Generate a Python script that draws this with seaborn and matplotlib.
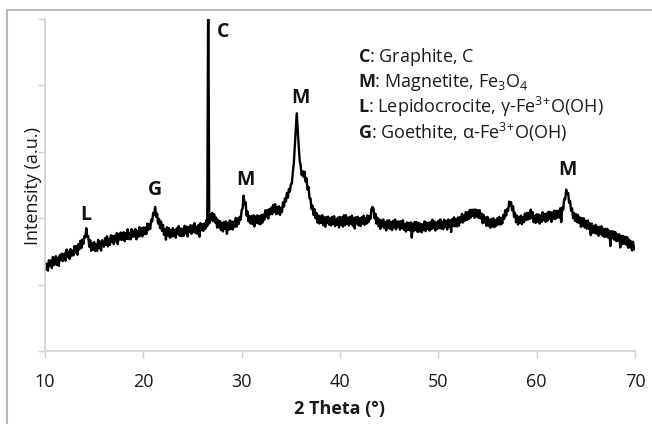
import numpy as np
import pandas as pd
import matplotlib
matplotlib.use("Agg")
import matplotlib.pyplot as plt
import seaborn as sns

# ---- data (one row per degree 2-theta, step 0.1) ----
two_theta_start = 10.0
two_theta_step = 0.1
intensity = [
    1330, 1227, 1314, 1211, 1368, 1285, 1362, 1249, 1416, 1293,   # 10
    1310, 1428, 1296, 1404, 1282, 1440, 1368, 1466, 1354, 1442,   # 11
    1470, 1359, 1528, 1417, 1496, 1385, 1534, 1433, 1512, 1441,   # 12
    1580, 1480, 1580, 1450, 1610, 1530, 1660, 1550, 1680, 1610,   # 13
    1730, 1710, 1850, 1720, 1730, 1570, 1670, 1510, 1625, 1525,   # 14
    1640, 1506, 1602, 1508, 1674, 1550, 1646, 1512, 1668, 1584,   # 15
    1570, 1696, 1602, 1728, 1574, 1690, 1596, 1742, 1648, 1734,   # 16
    1610, 1735, 1650, 1775, 1610, 1765, 1680, 1785, 1670, 1765,   # 17
    1790, 1653, 1776, 1689, 1832, 1685, 1778, 1681, 1834, 1717,   # 18
    1810, 1724, 1838, 1682, 1806, 1720, 1864, 1738, 1852, 1726,   # 19
    1860, 1760, 1860, 1760, 1920, 1820, 1910, 1840, 1980, 1950,   # 20
    2080, 2050, 2170, 2020, 2070, 1920, 1990, 1850, 1950, 1810,   # 21
    1900, 1750, 1830, 1677, 1865, 1742, 1850, 1707, 1825, 1722,   # 22
    1850, 1732, 1824, 1706, 1848, 1760, 1882, 1734, 1846, 1728,   # 23
    1840, 1733, 1886, 1769, 1872, 1725, 1868, 1791, 1894, 1767,   # 24
    1890, 1793, 1926, 1779, 1872, 1765, 1898, 1721, 1924, 1817,   # 25
    1910, 1810, 1920, 1840, 1965, 1880, 5600, 1920, 2060, 1970,   # 26
    2080, 1955, 2060, 1935, 2010, 1860, 1975, 1860, 1955, 1820,   # 27
    1930, 1801, 1942, 1843, 1954, 1765, 1926, 1827, 1968, 1839,   # 28
    1950, 1829, 1948, 1867, 2006, 1875, 1994, 1913, 2020, 1980,   # 29
    2120, 2150, 2340, 2210, 2240, 2040, 2100, 1950, 2030, 1920,   # 30
    2030, 1912, 2044, 1876, 2028, 1930, 2044, 1918, 2032, 1906,   # 31
    2050, 1932, 2054, 1976, 2118, 2020, 2122, 1994, 2136, 2058,   # 32
    2160, 2060, 2200, 2100, 2210, 2060, 2170, 2070, 2180, 2050,   # 33
    2150, 2095, 2240, 2175, 2300, 2250, 2380, 2310, 2440, 2400,   # 34
    2510, 2520, 2690, 2820, 3080, 3330, 3580, 3330, 3090, 2870,   # 35
    2790, 2650, 2710, 2620, 2700, 2550, 2600, 2430, 2470, 2300,   # 36
    2300, 2140, 2190, 2050, 2140, 2000, 2080, 1935, 2040, 1920,   # 37
    2030, 1928, 2046, 1894, 2012, 1870, 2018, 1926, 2024, 1902,   # 38
    2000, 1890, 2020, 1910, 2030, 1880, 1990, 1900, 2010, 1860,   # 39
    2020, 1901, 2012, 1873, 2044, 1895, 2046, 1917, 2008, 1889,   # 40
    2020, 1919, 2038, 1887, 2006, 1845, 2014, 1923, 2022, 1891,   # 41
    2000, 1882, 2014, 1916, 2038, 1900, 2004, 1918, 2042, 1940,   # 42
    2030, 1990, 2140, 2170, 2150, 2000, 2070, 1920, 2010, 1880,   # 43
    1980, 1838, 1966, 1874, 1982, 1850, 1938, 1816, 1964, 1852,   # 44
    1970, 1840, 1940, 1820, 1960, 1860, 1980, 1830, 1950, 1870,   # 45
    1950, 1827, 1954, 1851, 1968, 1825, 1912, 1799, 1936, 1823,   # 46
    1930, 1819, 1938, 1707, 1916, 1805, 1944, 1823, 1942, 1791,   # 47
    1930, 1802, 1914, 1786, 1908, 1820, 1952, 1804, 1936, 1838,   # 48
    1930, 1812, 1944, 1836, 1978, 1850, 1952, 1814, 1936, 1838,   # 49
    1960, 1851, 1982, 1843, 1944, 1835, 1976, 1867, 1958, 1829,   # 50
    1980, 1874, 1968, 1792, 1986, 1880, 2014, 1878, 1982, 1876,   # 51
    2010, 1889, 2018, 1937, 2066, 1935, 2044, 1963, 2092, 1971,   # 52
    2090, 1987, 2124, 2011, 2128, 2035, 2130, 2005, 2130, 2025,   # 53
    2120, 2005, 2120, 1995, 2070, 1925, 2050, 1935, 2012, 1885,   # 54
    2020, 1885, 1980, 1855, 1990, 1875, 2000, 1865, 1970, 1885,   # 55
    2000, 1905, 2020, 1905, 2000, 1920, 2050, 1990, 2120, 2040,   # 56
    2140, 2110, 2250, 2190, 2240, 2120, 2180, 2020, 2080, 1940,   # 57
    2040, 1905, 2020, 1925, 2040, 1910, 2020, 1940, 2070, 1970,   # 58
    2080, 1980, 2080, 1990, 2130, 2000, 2090, 1940, 2030, 1930,   # 59
    2060, 1943, 2056, 1919, 2042, 1945, 2088, 1971, 2064, 1947,   # 60
    2070, 1963, 2096, 1989, 2092, 1945, 2088, 1991, 2114, 1987,   # 61
    2110, 2010, 2110, 2010, 2150, 1940, 2160, 2130, 2290, 2280,   # 62
    2430, 2370, 2380, 2230, 2260, 2110, 2150, 2000, 2080, 1960,   # 63
    2060, 1940, 2050, 1930, 2010, 1870, 2002, 1884, 1996, 1858,   # 64
    1960, 1843, 1966, 1839, 1922, 1745, 1918, 1781, 1884, 1777,   # 65
    1900, 1765, 1870, 1735, 1870, 1765, 1880, 1735, 1840, 1715,   # 66
    1840, 1724, 1838, 1702, 1806, 1580, 1804, 1698, 1802, 1676,   # 67
    1790, 1654, 1758, 1662, 1756, 1560, 1734, 1608, 1732, 1616,   # 68
    1720, 1602, 1714, 1556, 1678, 1560, 1652, 1514, 1646, 1528,   # 69
    1560,                                                         # 70
]
two_theta = [round(two_theta_start + i * two_theta_step, 1) for i in range(len(intensity))]

peak_labels = ["L", "G", "C", "M", "M", "M"]
peak_x = [14.17, 21.2, 28.1, 30.34, 35.93, 63.1]
peak_y = [2050, 2420, 4800, 2575, 3810, 2725]

legend_lines = [
    r"$\mathbf{C}$: Graphite, C",
    r"$\mathbf{M}$: Magnetite, Fe$_{3}$O$_{4}$",
    r"$\mathbf{L}$: Lepidocrocite, γ-Fe$^{3}$$^{+}$O(OH)",
    r"$\mathbf{G}$: Goethite, α-Fe$^{3}$$^{+}$O(OH)",
]
legend_x = 41.8
legend_y = [4350, 3976, 3584, 3193]

x_ticks = [10, 20, 30, 40, 50, 60, 70]
y_ticks = [0, 1000, 2000, 3000, 4000, 5000]

# ---- style ----
sns.set_theme(style="white")
FONT = "Open Sans"
plt.rcParams["font.family"] = [FONT, "DejaVu Sans"]
plt.rcParams["mathtext.fontset"] = "custom"
plt.rcParams["mathtext.rm"] = FONT
plt.rcParams["mathtext.it"] = FONT + ":italic"
plt.rcParams["mathtext.bf"] = FONT + ":bold"

df = pd.DataFrame({"two_theta": two_theta, "intensity": intensity})

fig = plt.figure(figsize=(6.52, 4.24), dpi=100)
ax = fig.add_axes([45 / 652, 1 - 351 / 424, 590 / 652, (351 - 19) / 424])

sns.lineplot(data=df, x="two_theta", y="intensity", ax=ax, color="black",
             linewidth=1.7, estimator=None, sort=False)

ax.set_xlim(10, 70)
ax.set_ylim(0, 5000)
ax.set_xticks(x_ticks)
ax.set_xticklabels([str(t) for t in x_ticks], fontsize=13, color="#1a1a1a")
ax.set_yticks(y_ticks)
ax.set_yticklabels([])
ax.tick_params(axis="x", length=5, width=1, color="#d0d0d0", pad=11, direction="out", bottom=True)
ax.tick_params(axis="y", length=5, width=1, color="#d0d0d0", direction="out", left=True)

for s in ["top", "right"]:
    ax.spines[s].set_visible(False)
for s in ["left", "bottom"]:
    ax.spines[s].set_color("#d0d0d0")
    ax.spines[s].set_linewidth(1.2)

ax.set_xlabel("2 Theta (°)", fontsize=13, fontweight="bold", color="#1a1a1a", labelpad=6)
ax.set_ylabel("")
fig.text(33 / 652, 1 - 186 / 424, "Intensity (a.u.)", rotation=90, fontsize=13,
         ha="center", va="center", color="#1a1a1a")

for lab, px, py in zip(peak_labels, peak_x, peak_y):
    ax.text(px, py, lab, fontsize=14, fontweight="bold", ha="center", va="center",
            color="#111111")

for line, ly in zip(legend_lines, legend_y):
    ax.text(legend_x, ly, line, fontsize=13, ha="left", va="baseline", color="#1a1a1a")

# outer frame (top and left edges visible)
fig.add_artist(plt.Line2D([7 / 652, 1.0], [1 - 10 / 424, 1 - 10 / 424],
                          transform=fig.transFigure, color="#b8b8b8", linewidth=1.5))
fig.add_artist(plt.Line2D([7 / 652, 7 / 652], [0.0, 1 - 10 / 424],
                          transform=fig.transFigure, color="#b8b8b8", linewidth=1.5))

fig.savefig("out.png", dpi=100)
